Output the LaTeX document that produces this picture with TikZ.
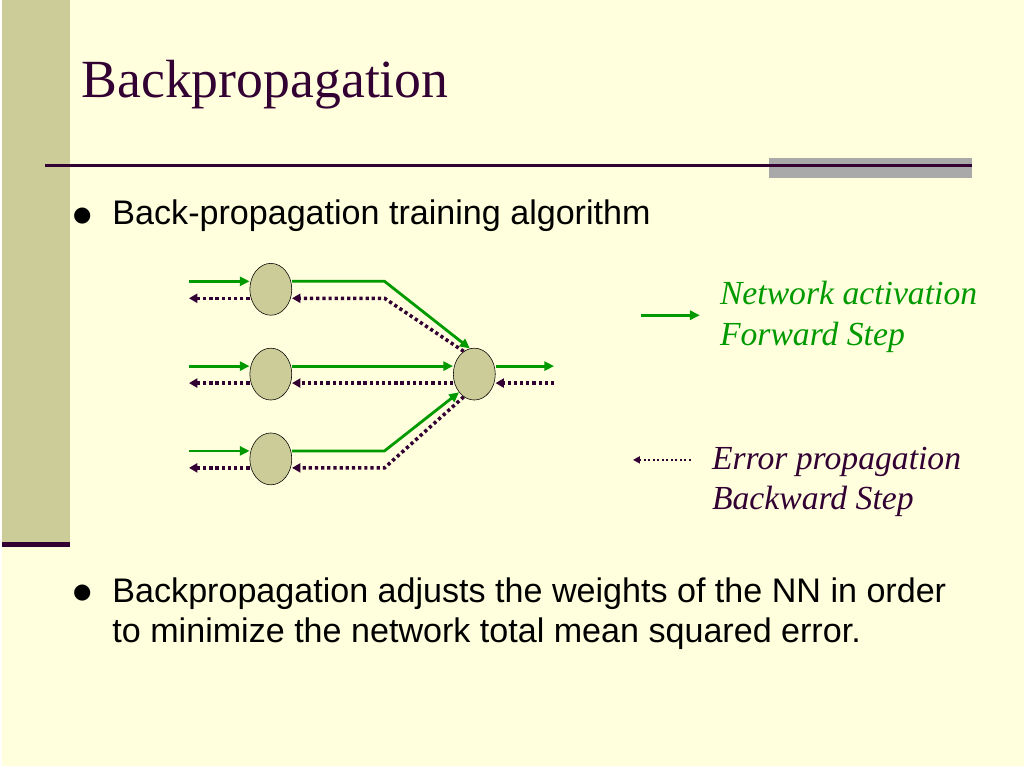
\documentclass[tikz,border=0pt]{standalone}
\usepackage{fontspec}
\setmainfont{Liberation Serif}
\setsansfont{Liberation Sans}
\newfontfamily\bulletfont{DejaVu Sans}
\usepackage{tikz}
\usetikzlibrary{shapes.geometric, arrows.meta, calc, positioning}
\definecolor{slidebg}{HTML}{FFFFDD}
\definecolor{strip}{HTML}{CCCC99}
\definecolor{plum}{HTML}{330033}
\definecolor{fwd}{HTML}{009900}
\definecolor{bar}{HTML}{A9A9A9}
\tikzstyle{neuron} = [ellipse, draw=black, thin, fill=strip, minimum width=1.05cm, minimum height=1.3cm, inner sep=0pt]
\tikzstyle{forward} = [fwd, line width=2pt, -{Triangle[length=7pt, width=6.5pt]}]
\tikzstyle{backward} = [plum, line width=2.5pt, dash pattern=on 2.3pt off 2.1pt, -{Triangle[length=6pt, width=6.5pt]}]
\tikzstyle{bullet} = [anchor=center, inner sep=0pt, font=\bulletfont\fontsize{15}{15}\selectfont]
\tikzstyle{bodytext} = [anchor=base west, inner sep=0pt, font=\sffamily\fontsize{24.3}{28}\selectfont]
\tikzstyle{legend} = [anchor=base west, inner sep=0pt, font=\itshape\fontsize{24}{28}\selectfont]

\begin{document}
\begin{tikzpicture}[x=0.025cm, y=-0.025cm]
	% slide background
	\fill [slidebg] (0,0) rectangle (1024,768);
	\fill [strip] (0,0) rectangle (68,543);
	\draw [plum, line width=3.5pt] (0,545.5) -- (68,545.5);
	\fill [bar] (768,158) rectangle (972,178);
	\draw [plum, line width=2pt] (43,166) -- (972,166);
	\node (Title) [anchor=base west, inner sep=0pt, text=plum, font=\fontsize{38.3}{44}\selectfont] at (79,98) {Backpropagation};
	% bullets
	\node (Bullet1) [bullet] at (80,217) {●};
	\node (Line1) [bodytext] at (110,225) {Back-propagation training algorithm};
	\node (Bullet2) [bullet] at (80,594) {●};
	\node (Line2) [bodytext] at (110,604) {Backpropagation adjusts the weights of the NN in order};
	\node (Line3) [bodytext] at (110,644) {to minimize the network total mean squared error.};
	% network
	\foreach \n/\y in {1/290, 2/375, 3/460} {
		\node (Hidden\n) [neuron] at (269,\y) {};
		\coordinate (Input\n) at (187,\y);
	}
	\node (Output) [neuron] at (473,375) {};
	\coordinate (OutputRight) at (553,375);
	\coordinate (Bend1) at (383,290);
	\coordinate (Bend3) at (383,460);
	\foreach \n in {1,2,3} {
		\draw [forward] ($(Input\n)+(0,-8)$) -- ($(Hidden\n.west)+(0,-8)$);
		\draw [backward] ($(Hidden\n.west)+(0,9)$) -- ($(Input\n)+(0,9)$);
	}
	\draw [forward] ($(Hidden1.east)+(0,-8)$) -- ($(Bend1)+(0,-8)$) -- (Output.100);
	\draw [backward] (Output.115) -- ($(Bend1)+(0,9)$) -- ($(Hidden1.east)+(0,9)$);
	\draw [forward] ($(Hidden2.east)+(0,-8)$) -- ($(Output.west)+(0,-8)$);
	\draw [backward] ($(Output.west)+(0,9)$) -- ($(Hidden2.east)+(0,9)$);
	\draw [forward] ($(Hidden3.east)+(0,-8)$) -- ($(Bend3)+(0,-8)$) -- (Output.230);
	\draw [backward] (Output.245) -- ($(Bend3)+(0,9)$) -- ($(Hidden3.east)+(0,9)$);
	\draw [forward] ($(Output.east)+(0,-8)$) -- ($(OutputRight)+(0,-8)$);
	\draw [backward] ($(OutputRight)+(0,9)$) -- ($(Output.east)+(0,9)$);
	% legend
	\coordinate (ForwardA) at (640,316);
	\coordinate (ForwardB) at (699,316);
	\draw [forward] (ForwardA) -- (ForwardB);
	\node (ForwardText1) [legend, text=fwd] at (719,305) {Network activation};
	\node (ForwardText2) [legend, text=fwd] at (719,346) {Forward Step};
	\coordinate (BackwardA) at (690,461);
	\coordinate (BackwardB) at (632,461);
	\draw [backward, line width=1.8pt, dash pattern=on 1.6pt off 1.6pt, -{Triangle[length=5pt, width=5pt]}] (BackwardA) -- (BackwardB);
	\node (BackwardText1) [legend, text=plum] at (711,471) {Error propagation};
	\node (BackwardText2) [legend, text=plum] at (711,511) {Backward Step};
\end{tikzpicture}
\end{document}
